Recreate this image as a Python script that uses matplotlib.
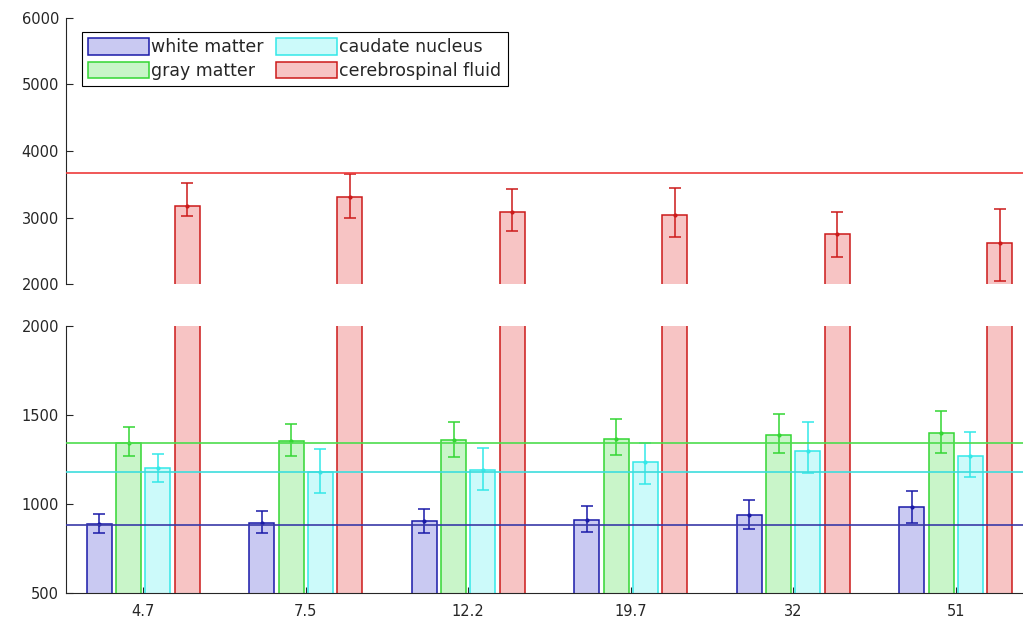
"""Broken-axis grouped bar chart: tissue values per category with reference lines."""

import matplotlib
matplotlib.use("Agg")
import matplotlib.pyplot as plt
from matplotlib.patches import Patch
import numpy as np

plt.rcParams.update({
    "font.family": "DejaVu Sans",
    "font.size": 10.5,
    "axes.linewidth": 0.8,
    "text.color": "#262626",
    "xtick.color": "#262626",
    "ytick.color": "#262626",
    "axes.edgecolor": "#262626",
})

categories = ["4.7", "7.5", "12.2", "19.7", "32", "51"]

white = [888, 897, 904, 912, 940, 983]
white_lo = [51, 60, 67, 66, 77, 90]
white_hi = [57, 67, 70, 78, 84, 92]

gray = [1346, 1356, 1361, 1369, 1389, 1399]
gray_lo = [75, 85, 94, 92, 102, 112]
gray_hi = [87, 93, 103, 110, 117, 125]

caudate = [1202, 1183, 1193, 1236, 1299, 1271]
caudate_lo = [75, 118, 113, 122, 121, 119]
caudate_hi = [79, 128, 125, 110, 165, 133]

csf = [3179, 3314, 3089, 3039, 2754, 2615]
csf_lo = [159, 320, 290, 334, 349, 566]
csf_hi = [340, 340, 335, 410, 335, 514]

ref_lines = {"white": 884, "gray": 1343, "caudate": 1183, "csf": 3674}

labels = ["white matter", "gray matter", "caudate nucleus", "cerebrospinal fluid"]
edge = ["#1a1aa8", "#33d633", "#33e8e8", "#cc1a1a"]
face = ["#c9c9f2", "#c9f5c9", "#ccfafa", "#f7c4c4"]
line_col = ["#3a3aa8", "#4ddd4d", "#3ddddd", "#ee3b3b"]

series = [
    (white, white_lo, white_hi, ref_lines["white"]),
    (gray, gray_lo, gray_hi, ref_lines["gray"]),
    (caudate, caudate_lo, caudate_hi, ref_lines["caudate"]),
    (csf, csf_lo, csf_hi, ref_lines["csf"]),
]

x = np.arange(1, len(categories) + 1)
offsets = [-1.5, -0.5, 0.5, 1.5]
step = 0.18
width = 0.154

fig = plt.figure(figsize=(10.23, 6.26), dpi=100)
W, H = 1023, 626
left = 66 / W
axw = 967 / W
ax_top = fig.add_axes([left, 1 - 284.3 / H, axw, (284.3 - 17.6) / H])
ax_bot = fig.add_axes([left, 1 - 593.3 / H, axw, (593.3 - 326.3) / H])

for ax in (ax_top, ax_bot):
    for i, (vals, lo, hi, ref) in enumerate(series):
        pos = x + offsets[i] * step
        ax.bar(pos, vals, width=width, color=face[i], edgecolor=edge[i],
               linewidth=1.1, zorder=2)
        ax.errorbar(pos, vals, yerr=[lo, hi], fmt=".", color=edge[i],
                    markersize=4, elinewidth=1.1, capsize=4.5, capthick=1.1,
                    zorder=3)
        ax.axhline(ref, color=line_col[i], linewidth=1.2, zorder=4)
    ax.set_xlim(0.524, 6.476)
    ax.spines["top"].set_visible(False)
    ax.spines["right"].set_visible(False)
    ax.tick_params(direction="in", length=5, pad=5, width=0.8)

ax_top.set_ylim(2000, 6000)
ax_top.set_yticks([2000, 3000, 4000, 5000, 6000])
ax_top.spines["bottom"].set_visible(False)
ax_top.set_xticks([])

ax_bot.set_ylim(500, 2000)
ax_bot.set_yticks([500, 1000, 1500, 2000])
ax_bot.set_xticks(x)
ax_bot.set_xticklabels(categories)
ax_bot.tick_params(axis="x", length=4, pad=8)

handles = [Patch(facecolor=face[i], edgecolor=edge[i], linewidth=1.1) for i in range(4)]
leg = ax_top.legend(handles, labels, ncol=2, loc="upper left",
                    bbox_to_anchor=(82 / W, 1 - 32 / H), bbox_transform=fig.transFigure,
                    borderaxespad=0, fancybox=False, edgecolor="black", framealpha=1,
                    fontsize=12.5, handlelength=3.5, handleheight=1.1,
                    handletextpad=0.15, columnspacing=0.7, labelspacing=0.3,
                    borderpad=0.35)
leg.get_frame().set_linewidth(0.8)

fig.savefig("out.png", dpi=100)
